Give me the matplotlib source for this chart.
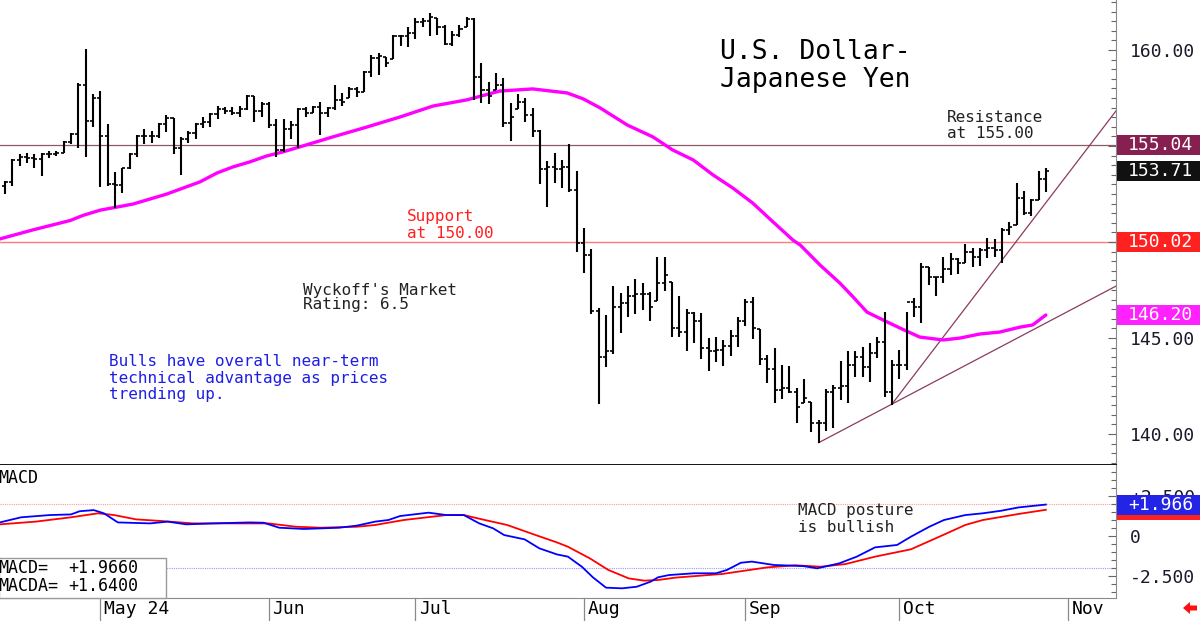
import matplotlib
matplotlib.use('Agg')
import matplotlib.pyplot as plt
import matplotlib.transforms as mtransforms
from matplotlib.patches import Rectangle, Polygon
from matplotlib.ticker import MultipleLocator, FixedLocator
import numpy as np
import pandas as pd

plt.rcParams['font.family'] = ['DejaVu Sans Mono', 'DejaVu Sans']

# ---------------- data ----------------
start_date = '2024-04-12'
end_date = '2024-10-29'

high = [153.20, 154.30, 154.60, 154.64, 154.58, 154.64, 154.74, 154.74, 155.26, 155.68,
        158.28, 160.05, 157.71, 157.86, 156.15, 153.65, 153.85, 154.64, 155.57, 155.89,
        155.78, 156.20, 156.61, 156.46, 155.47, 155.78, 156.20, 156.51, 156.72, 157.08,
        157.03, 157.03, 157.08, 157.66, 157.60, 157.29, 157.29, 156.41, 156.41, 156.30,
        156.98, 157.03, 157.08, 157.29, 157.03, 158.18, 157.76, 158.07, 158.07, 158.91,
        159.74, 159.84, 159.64, 160.78, 160.78, 161.20, 161.67, 161.67, 161.93, 161.67,
        161.30, 160.99, 161.30, 161.72, 161.67, 159.32, 158.33, 158.80, 158.54, 157.24,
        157.71, 157.50, 156.98, 155.83, 154.22, 154.64, 154.27, 155.10, 153.70, 150.73,
        149.64, 146.56, 146.20, 147.71, 147.34, 147.71, 148.07, 147.86, 147.40, 149.22,
        149.22, 147.92, 147.19, 146.51, 146.35, 146.30, 145.00, 145.05, 144.90, 145.42,
        146.09, 147.03, 147.14, 145.47, 144.11, 144.48, 143.59, 143.54, 142.40, 142.86,
        141.67, 140.73, 142.34, 142.55, 143.80, 144.32, 144.32, 144.53, 144.74, 145.05,
        146.35, 143.85, 144.38, 146.35, 147.08, 148.91, 148.70, 148.18, 149.22, 149.43,
        149.17, 149.90, 149.69, 149.69, 150.21, 150.16, 150.73, 151.04, 153.07, 152.66,
        152.24, 153.70, 153.85]
low = [152.50, 152.90, 153.95, 154.11, 153.85, 153.44, 154.38, 154.48, 154.64, 155.10,
       154.90, 154.43, 155.99, 152.86, 152.92, 151.77, 152.55, 153.80, 154.43, 155.10,
       155.16, 155.42, 155.73, 154.58, 153.49, 155.16, 155.36, 155.94, 155.99, 156.41,
       156.67, 156.61, 156.51, 156.88, 156.25, 156.51, 155.94, 154.43, 154.69, 155.36,
       154.90, 156.51, 156.72, 155.57, 156.51, 156.88, 157.08, 157.50, 157.55, 157.81,
       158.59, 158.70, 159.11, 159.53, 160.21, 160.16, 160.57, 161.20, 160.73, 160.78,
       160.26, 160.21, 160.68, 161.20, 157.40, 157.24, 157.19, 157.92, 155.99, 155.26,
       156.93, 156.25, 155.47, 153.02, 151.82, 153.07, 152.81, 152.60, 149.48, 148.39,
       146.25, 141.56, 143.49, 144.17, 145.26, 146.09, 146.25, 146.46, 145.89, 146.93,
       147.45, 145.05, 145.05, 144.32, 144.74, 143.91, 143.28, 143.75, 143.54, 144.06,
       144.53, 145.63, 144.95, 143.59, 142.66, 141.61, 141.82, 142.14, 140.57, 141.61,
       140.10, 139.55, 140.16, 140.31, 141.77, 141.61, 142.97, 142.97, 142.71, 143.96,
       141.93, 141.51, 142.86, 143.33, 146.09, 145.78, 147.76, 147.19, 147.86, 148.28,
       148.33, 148.91, 148.70, 148.75, 149.17, 149.22, 148.91, 150.36, 150.89, 151.41,
       151.35, 152.19, 152.60]
opens = [152.90, 153.15, 154.25, 154.45, 154.35, 154.30, 154.60, 154.60, 154.65, 155.20,
         155.60, 158.20, 156.30, 157.50, 155.50, 153.00, 152.95, 153.85, 154.60, 155.50,
         155.50, 155.50, 156.15, 156.45, 154.90, 155.35, 155.70, 156.15, 156.25, 156.65,
         156.90, 156.80, 156.70, 156.90, 157.60, 156.80, 157.20, 156.10, 154.80, 155.90,
         156.10, 156.95, 156.72, 157.05, 156.70, 157.00, 157.40, 157.50, 157.95, 157.81,
         158.85, 159.60, 159.64, 159.53, 160.70, 160.70, 160.90, 161.45, 161.50, 161.67,
         161.20, 160.30, 160.80, 161.20, 161.60, 158.60, 157.90, 157.92, 158.20, 156.20,
         156.93, 157.30, 156.60, 155.80, 153.80, 153.90, 153.80, 153.90, 152.70, 149.95,
         149.30, 146.40, 144.00, 144.30, 146.60, 146.80, 147.20, 147.30, 147.30, 146.93,
         147.85, 147.92, 145.50, 145.30, 146.30, 145.90, 144.50, 144.30, 144.40, 144.60,
         145.10, 145.90, 146.90, 145.47, 143.90, 143.40, 142.30, 142.40, 142.20, 141.61,
         141.67, 140.60, 140.60, 142.20, 142.40, 142.50, 143.60, 144.00, 143.50, 144.20,
         144.80, 142.20, 143.60, 143.60, 146.90, 146.60, 148.70, 148.18, 148.20, 148.60,
         149.10, 148.91, 149.50, 149.20, 149.60, 149.70, 149.60, 150.60, 150.89, 152.30,
         151.50, 152.20, 153.30]
close = [153.15, 154.25, 154.45, 154.35, 154.30, 154.60, 154.60, 154.65, 155.20, 155.60,
         158.20, 156.30, 157.50, 155.50, 153.00, 152.95, 153.85, 154.60, 155.50, 155.50,
         155.50, 156.15, 156.45, 154.90, 155.35, 155.70, 156.15, 156.25, 156.65, 156.90,
         156.80, 156.70, 156.90, 157.60, 156.80, 157.20, 156.10, 154.80, 155.90, 156.10,
         156.95, 156.70, 157.05, 156.70, 157.00, 157.40, 157.30, 157.95, 157.80, 158.85,
         159.60, 159.70, 159.30, 160.70, 160.70, 160.90, 161.45, 161.50, 161.70, 161.20,
         160.30, 160.80, 161.10, 161.60, 158.60, 157.90, 157.60, 158.20, 156.20, 156.50,
         157.30, 156.60, 155.80, 153.80, 153.90, 153.80, 153.90, 152.70, 149.95, 149.30,
         146.40, 144.00, 144.30, 146.60, 146.80, 147.20, 147.30, 147.30, 146.60, 147.85,
         148.30, 145.50, 145.30, 146.30, 145.90, 144.50, 144.30, 144.40, 144.60, 145.10,
         145.90, 146.90, 145.50, 143.90, 143.40, 142.30, 142.40, 142.20, 141.40, 141.90,
         140.60, 140.60, 142.20, 142.40, 142.50, 143.60, 144.00, 143.50, 144.20, 144.80,
         142.20, 143.60, 143.60, 146.90, 146.60, 148.70, 148.20, 148.20, 148.60, 149.10,
         148.90, 149.50, 149.20, 149.60, 149.70, 149.60, 150.60, 150.80, 152.30, 151.50,
         152.20, 153.30, 153.71]

# moving average (sampled along bar index)
ma_idx = [-0.7, 3.8, 8.9, 10.6, 13.0, 15.3, 17.5, 19.8, 22.1, 24.3, 26.6, 28.9, 31.1, 33.4,
          35.7, 37.9, 40.2, 44.7, 49.4, 53.9, 58.4, 63.0, 67.5, 72.0, 76.7, 78.9, 81.2,
          84.9, 88.4, 91.1, 93.9, 96.6, 99.3, 102.0, 104.8, 107.5, 108.5, 111.2, 113.9,
          115.7, 117.6, 119.8, 122.1, 124.8, 128.0, 130.3, 133.0, 135.7, 138.5, 140.2, 142.0]
ma_val = [150.16, 150.63, 151.12, 151.38, 151.66, 151.82, 151.98, 152.24, 152.50, 152.81,
          153.13, 153.59, 153.91, 154.17, 154.48, 154.69, 154.95, 155.47, 155.99, 156.51,
          157.08, 157.40, 157.86, 157.97, 157.76, 157.45, 156.98, 156.09, 155.47, 154.79,
          154.27, 153.49, 152.81, 152.03, 151.04, 150.10, 149.84, 148.80, 147.86, 147.14,
          146.35, 145.94, 145.52, 145.05, 144.90, 145.00, 145.21, 145.31, 145.57, 145.68, 146.20]

resistance = 155.04
support = 150.02
last_close = 153.71
ma_last = 146.20

# trend line anchors (bar index, price)
trend_low = [(111, 139.55), (121, 141.56)]
trend_steep = [(121, 141.56), (135.7, 148.90)]

# MACD (sampled along bar index)
macd_idx = [-0.7, 2.2, 6.1, 9.0, 10.2, 12.1, 13.5, 15.4, 19.8, 22.2, 24.7, 28.5, 33.4, 35.3,
            37.4, 40.8, 45.6, 48.0, 50.5, 52.3, 53.9, 57.8, 60.2, 62.6, 64.7, 66.6, 68.1,
            70.9, 72.9, 75.3, 76.8, 78.7, 80.2, 82.0, 84.2, 86.2, 88.1, 89.1, 90.6, 94.0,
            97.0, 98.5, 100.4, 101.9, 104.9, 108.9, 110.8, 113.8, 116.2, 118.7, 121.7,
            123.6, 126.1, 128.1, 131.0, 133.4, 135.9, 138.3, 142.0]
macd_val = [0.85, 1.17, 1.31, 1.35, 1.55, 1.62, 1.42, 0.85, 0.79, 0.90, 0.73, 0.79, 0.85, 0.83,
            0.52, 0.44, 0.52, 0.65, 0.90, 1.00, 1.25, 1.46, 1.31, 1.31, 0.79, 0.48, 0.06,
            -0.21, -0.77, -1.15, -1.29, -1.92, -2.58, -3.23, -3.27, -3.17, -2.85, -2.58, -2.44,
            -2.33, -2.33, -2.12, -1.67, -1.60, -1.81, -1.88, -2.02, -1.71, -1.29, -0.71, -0.56,
            -0.04, 0.58, 1.00, 1.31, 1.42, 1.58, 1.79, 1.966]
sig_idx = [-0.7, 4.2, 9.0, 12.7, 14.9, 17.9, 21.3, 25.6, 31.0, 35.9, 39.7, 43.1, 48.0, 50.5,
           54.4, 60.2, 62.6, 65.1, 68.5, 72.4, 75.3, 76.8, 79.8, 82.3, 85.1, 87.2, 89.1,
           91.5, 97.9, 104.0, 107.8, 111.3, 114.7, 118.7, 123.6, 128.5, 131.0, 133.4, 138.3, 142.0]
sig_val = [0.73, 0.90, 1.17, 1.42, 1.31, 1.04, 0.94, 0.79, 0.79, 0.79, 0.58, 0.52, 0.58, 0.69,
           1.00, 1.31, 1.31, 1.04, 0.69, 0.06, -0.40, -0.67, -1.40, -2.12, -2.65, -2.79, -2.75,
           -2.60, -2.37, -1.96, -1.83, -1.92, -1.75, -1.29, -0.83, 0.17, 0.69, 1.00, 1.38, 1.64]
macd_last = 1.966
sig_last = 1.64

# ---------------- figure ----------------
W, H = 1200, 621
fig = plt.figure(figsize=(12, 6.21), dpi=100)
fig.patch.set_facecolor('white')

def fx(px):
    return px / W

def fy(py):
    return 1 - py / H

AX_R = 1116
ax = fig.add_axes([0, fy(465), AX_R / W, 465 / H])
mx = fig.add_axes([0, fy(598), AX_R / W, (598 - 465) / H])

dates = pd.bdate_range(start_date, end_date)
n = len(high)
idx = np.arange(n)

XMIN, XMAX = -0.68, 151.57
for a in (ax, mx):
    a.set_xlim(XMIN, XMAX)
    a.set_xticks([])
    a.spines['top'].set_visible(False)
    a.spines['left'].set_visible(False)
    a.spines['right'].set_color('#8a8a8a')
    a.set_facecolor('white')

ax.set_ylim(138.39, 162.6)
ax.spines['bottom'].set_color('black')
ax.spines['bottom'].set_linewidth(1.3)
mx.set_ylim(-3.875, 4.44)
mx.spines['bottom'].set_color('#8a8a8a')

# horizontal levels
ax.axhline(resistance, color='#8C5A66', lw=0.9, zorder=1)
ax.axhline(support, color='#FF7A7A', lw=1.0, zorder=1)

# moving average
ax.plot(ma_idx, ma_val, color='#FF00FF', lw=2.4, solid_capstyle='round', zorder=3)

# trend lines extended to the right edge
for pts in (trend_low, trend_steep):
    (x0, y0), (x1, y1) = pts
    slope = (y1 - y0) / (x1 - x0)
    ax.plot([x0, XMAX], [y0, y0 + slope * (XMAX - x0)], color='#8B3A62', lw=0.9, zorder=2)

# OHLC bars
tw = 0.42
ax.vlines(idx, low, high, color='black', lw=1.5, zorder=4)
ax.hlines(opens, idx - tw, idx, color='black', lw=1.2, zorder=4)
ax.hlines(close, idx, idx + tw, color='black', lw=1.2, zorder=4)

# right axis (labels hidden behind value boxes are left blank)
lab_color = '#1a1a2a'
ax.yaxis.tick_right()
ax.yaxis.set_major_locator(FixedLocator([140, 145, 150, 155, 160]))
ax.yaxis.set_minor_locator(MultipleLocator(0.5))
ax.set_yticklabels(['140.00', '145.00', '', '', '160.00'])
ax.tick_params(axis='y', which='major', direction='in', length=6, width=0.8,
               color='#666666', pad=10, labelsize=13, labelcolor=lab_color)
ax.tick_params(axis='y', which='minor', direction='in', length=3.5, width=0.8, color='#666666')

mx.yaxis.tick_right()
mx.yaxis.set_major_locator(FixedLocator([-2.5, 0, 2.5]))
mx.yaxis.set_minor_locator(MultipleLocator(0.5))
mx.set_yticklabels(['-2.500', '0', '+2.500'])
mx.tick_params(axis='y', which='major', direction='in', length=6, width=0.8,
               color='#666666', pad=10, labelsize=13, labelcolor=lab_color)
mx.tick_params(axis='y', which='minor', direction='in', length=3.5, width=0.8, color='#666666')

# value boxes on the right
def value_box(a, val, text, color, hpx, ppu):
    tr = mtransforms.blended_transform_factory(a.transAxes, a.transData)
    h = hpx / ppu
    a.add_patch(Rectangle((1.0 + 1.0 / AX_R, val - h / 2), (W - AX_R) / AX_R, h,
                          transform=tr, clip_on=False, facecolor=color,
                          edgecolor='none', zorder=6))
    if text:
        a.text(1.0 + 12.0 / AX_R, val, text, transform=tr, clip_on=False, color='white',
               fontsize=13, va='center', ha='left', zorder=7)

value_box(ax, resistance, f'{resistance:.2f}', '#852050', 20, 19.2)
value_box(ax, last_close, f'{last_close:.2f}', '#111111', 20, 19.2)
value_box(ax, support, f'{support:.2f}', '#FF2020', 20, 19.2)
value_box(ax, ma_last, f'{ma_last:.2f}', '#FF22FF', 20, 19.2)
value_box(mx, sig_last, '', '#FF2020', 20, 16.0)
value_box(mx, macd_last, f'+{macd_last:.3f}', '#2424E6', 20, 16.0)

# MACD panel
mx.axhline(2.0, color='#FF9A9A', lw=0.8, ls=(0, (1, 1)), zorder=1)
mx.axhline(-2.0, color='#9A9AFF', lw=0.8, ls=(0, (1, 1)), zorder=1)
mx.plot(sig_idx, sig_val, color='#FF0000', lw=1.3, zorder=3)
mx.plot(macd_idx, macd_val, color='#0000FF', lw=1.3, zorder=3)

# legend box in MACD panel
fig.patches.append(Rectangle((fx(-1), fy(598)), fx(167), (598 - 558) / H,
                             transform=fig.transFigure, facecolor='white',
                             edgecolor='#9a9a9a', lw=1.0, zorder=5))
fig.text(fx(-2), fy(568), 'MACD=', fontsize=12, va='center', ha='left', color='black', zorder=6)
fig.text(fx(68), fy(568), f'+{macd_last:.4f}', fontsize=12, va='center', ha='left', color='black', zorder=6)
fig.text(fx(-2), fy(586), 'MACDA=', fontsize=12, va='center', ha='left', color='black', zorder=6)
fig.text(fx(68), fy(586), f'+{sig_last:.4f}', fontsize=12, va='center', ha='left', color='black', zorder=6)
fig.text(fx(-2), fy(478), 'MACD', fontsize=12, va='center', ha='left', color='black')

# month separators and labels
full = pd.bdate_range(start_date, '2024-11-29')
pos = {d: i for i, d in enumerate(full)}
month_starts = [d for i, d in enumerate(full) if i > 0 and d.month != full[i - 1].month]
trx = mtransforms.blended_transform_factory(mx.transData, mx.transAxes)
ph = 598 - 465
for d in month_starts:
    p = pos[d]
    lab = d.strftime('%b') + (' 24' if d.month == 5 else '')
    mx.plot([p, p], [0, -23 / ph], transform=trx, color='#8a8a8a', lw=0.9, clip_on=False)
    mx.text(p + 0.5, -11 / ph, lab, transform=trx, fontsize=13, va='center', ha='left',
            color='black', clip_on=False)

# annotations
fig.text(fx(720), fy(52), 'U.S. Dollar-', fontsize=19, va='center', ha='left', color='black')
fig.text(fx(720), fy(80), 'Japanese Yen', fontsize=19, va='center', ha='left', color='black')
fig.text(fx(947), fy(118), 'Resistance', fontsize=11.5, va='center', ha='left', color='#222222')
fig.text(fx(947), fy(133), 'at 155.00', fontsize=11.5, va='center', ha='left', color='#222222')
fig.text(fx(407), fy(217), 'Support', fontsize=11.5, va='center', ha='left', color='#FF2020')
fig.text(fx(407), fy(233), 'at 150.00', fontsize=11.5, va='center', ha='left', color='#FF2020')
fig.text(fx(303), fy(290), "Wyckoff's Market", fontsize=11.5, va='center', ha='left', color='#222222')
fig.text(fx(303), fy(305), 'Rating: 6.5', fontsize=11.5, va='center', ha='left', color='#222222')
fig.text(fx(109), fy(362), 'Bulls have overall near-term', fontsize=11.5, va='center', ha='left', color='#1E1EE6')
fig.text(fx(109), fy(379), 'technical advantage as prices', fontsize=11.5, va='center', ha='left', color='#1E1EE6')
fig.text(fx(109), fy(395), 'trending up.', fontsize=11.5, va='center', ha='left', color='#1E1EE6')
fig.text(fx(798), fy(511), 'MACD posture', fontsize=11.5, va='center', ha='left', color='#222222')
fig.text(fx(798), fy(527), 'is bullish', fontsize=11.5, va='center', ha='left', color='#222222')

# red arrow bottom right
arrow_px = [(1183, 608), (1190, 602), (1190, 605.5), (1197, 605.5), (1197, 610.5),
            (1190, 610.5), (1190, 614)]
fig.patches.append(Polygon([(fx(a), fy(b)) for a, b in arrow_px], closed=True,
                           transform=fig.transFigure, facecolor='#FF1010', edgecolor='none'))

fig.savefig('out.png', dpi=100)
